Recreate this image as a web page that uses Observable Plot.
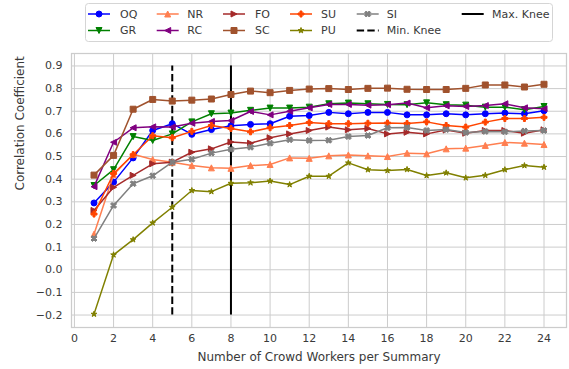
<!DOCTYPE html>
<html><head><meta charset="utf-8">
<script src="https://cdn.jsdelivr.net/npm/d3@7"></script>
<script src="https://cdn.jsdelivr.net/npm/@observablehq/plot@0.6"></script>
<style>
body{margin:0;background:#fff;font-family:"DejaVu Sans",sans-serif;}
#legend{width:569px;height:48px;}
#chart{width:569px;height:321px;}
</style></head><body>
<div id="legend"></div><div id="chart"></div>
<script>
// ---- data ----
const workers = [1,2,3,4,5,6,7,8,9,10,11,12,13,14,15,16,17,18,19,20,21,22,23,24];
const xTicks = [0,2,4,6,8,10,12,14,16,18,20,22,24];
const yTicks = [-0.2,-0.1,0,0.1,0.2,0.3,0.4,0.5,0.6,0.7,0.8,0.9];
const seriesNames = ["OQ","GR","NR","RC","FO","SC","SU","PU","SI"];
const seriesColors = ["#0000ff","#008000","#ff7f50","#800080","#a52a2a","#a0522d","#ff4500","#808000","#808080"];
const oq = [0.295,0.387,0.494,0.615,0.645,0.598,0.619,0.636,0.642,0.645,0.678,0.681,0.695,0.689,0.695,0.695,0.684,0.684,0.689,0.684,0.689,0.692,0.689,0.702];
const gr = [0.372,0.442,0.588,0.571,0.600,0.653,0.689,0.692,0.704,0.714,0.714,0.718,0.733,0.736,0.733,0.730,0.729,0.737,0.729,0.727,0.718,0.718,0.707,0.721];
const nr = [0.157,0.420,0.510,0.487,0.475,0.460,0.450,0.448,0.460,0.465,0.494,0.492,0.503,0.507,0.503,0.500,0.515,0.512,0.534,0.537,0.549,0.562,0.559,0.553];
const rc = [0.367,0.563,0.627,0.631,0.630,0.647,0.655,0.659,0.699,0.684,0.700,0.715,0.730,0.730,0.727,0.729,0.736,0.715,0.724,0.721,0.725,0.733,0.715,0.711];
const fo = [0.262,0.364,0.417,0.468,0.475,0.519,0.534,0.564,0.559,0.583,0.600,0.615,0.630,0.618,0.624,0.600,0.607,0.600,0.617,0.603,0.615,0.615,0.603,0.618];
const sc = [0.418,0.505,0.709,0.752,0.745,0.749,0.754,0.774,0.789,0.782,0.792,0.798,0.800,0.796,0.801,0.802,0.797,0.796,0.796,0.801,0.816,0.816,0.807,0.819];
const su = [0.246,0.425,0.508,0.592,0.583,0.611,0.637,0.624,0.609,0.627,0.637,0.650,0.645,0.645,0.647,0.648,0.646,0.653,0.637,0.630,0.652,0.668,0.668,0.673];
const pu = [-0.196,0.066,0.133,0.207,0.276,0.350,0.345,0.382,0.384,0.392,0.376,0.413,0.413,0.472,0.442,0.438,0.443,0.416,0.428,0.406,0.417,0.442,0.460,0.453];
const si = [0.138,0.284,0.380,0.415,0.475,0.488,0.515,0.532,0.541,0.559,0.574,0.571,0.572,0.588,0.593,0.627,0.628,0.615,0.619,0.606,0.611,0.609,0.613,0.615];
const seriesValues = [oq,gr,nr,rc,fo,sc,su,pu,si];
const kneeNames = ["Min. Knee","Max. Knee"];
const kneeX = [5, 8];
const kneeRange = [-0.2, 0.9];
const xLabel = "Number of Crowd Workers per Summary";
const yLabel = "Correlation Coefficient";
const textColor = "#3a3a3a";

// ---- marker shapes (matplotlib-like) ----
function polySym(pts){
  return {draw(ctx, size){
    const s = Math.sqrt(size/Math.PI)*2;
    ctx.moveTo(pts[0][0]*s, pts[0][1]*s);
    for (let i=1;i<pts.length;i++) ctx.lineTo(pts[i][0]*s, pts[i][1]*s);
    ctx.closePath();
  }};
}
const circleSym = {draw(ctx,size){const r=Math.sqrt(size/Math.PI); ctx.moveTo(r,0); ctx.arc(0,0,r,0,2*Math.PI); ctx.closePath();}};
const starPts = d3.range(10).map(i => { const a = -Math.PI/2 + i*Math.PI/5; const rr = i%2 ? 0.5*0.381966 : 0.5; return [rr*Math.cos(a), rr*Math.sin(a)]; });
const plusPts = [[-1,-3],[1,-3],[1,-1],[3,-1],[3,1],[1,1],[1,3],[-1,3],[-1,1],[-3,1],[-3,-1],[-1,-1]].map(([a,b])=>[a/6,b/6]);
const xPts = [[0.25,0],[0.5,0.25],[0.75,0],[1,0.25],[0.75,0.5],[1,0.75],[0.75,1],[0.5,0.75],[0.25,1],[0,0.75],[0.25,0.5],[0,0.25]].map(([a,b])=>[a-0.5,b-0.5]);
const symbols = [
  circleSym,
  polySym([[0,0.5],[-0.5,-0.5],[0.5,-0.5]]),   // v
  polySym([[0,-0.5],[-0.5,0.5],[0.5,0.5]]),    // ^
  polySym([[-0.5,0],[0.5,-0.5],[0.5,0.5]]),    // <
  polySym([[0.5,0],[-0.5,-0.5],[-0.5,0.5]]),   // >
  polySym([[-0.5,-0.5],[0.5,-0.5],[0.5,0.5],[-0.5,0.5]]), // s
  polySym(plusPts),  // P
  polySym(starPts),  // *
  polySym(xPts)      // X
];

// ---- plot ----
const rows = seriesNames.map((name,k) => workers.map((w,i) => ({series:name, x:w, y:seriesValues[k][i]})));
const kneeRows = kneeNames.map((n,i) => ({name:n, x:kneeX[i], y1:kneeRange[0], y2:kneeRange[1]}));

const marks = [
  Plot.ruleX(xTicks, {stroke:"#cccccc", strokeWidth:1}),
  Plot.ruleY(yTicks, {stroke:"#cccccc", strokeWidth:1}),
  Plot.frame({stroke:"#cccccc", strokeWidth:1.25}),
  Plot.ruleX([kneeRows[0]], {x:"x", y1:"y1", y2:"y2", stroke:"black", strokeWidth:2, strokeDasharray:"7.4,3.2"}),
  Plot.ruleX([kneeRows[1]], {x:"x", y1:"y1", y2:"y2", stroke:"black", strokeWidth:2})
];
rows.forEach((data,k) => {
  marks.push(Plot.line(data, {x:"x", y:"y", stroke:seriesColors[k], strokeWidth:1.5}));
  marks.push(Plot.dot(data, {x:"x", y:"y", symbol:symbols[k], r:3, fill:seriesColors[k], stroke:seriesColors[k], strokeWidth:1}));
});
marks.push(Plot.text([xLabel], {frameAnchor:"bottom", dy:30, fontSize:12, fill:textColor, lineAnchor:"middle"}));
marks.push(Plot.text([yLabel], {frameAnchor:"left", dx:-51, rotate:-90, fontSize:12, fill:textColor, lineAnchor:"middle"}));

const chart = Plot.plot({
  width:569, height:321,
  marginTop:5, marginLeft:71, marginRight:3, marginBottom:42,
  style:{fontFamily:"DejaVu Sans", fontSize:"11px", color:textColor, background:"white", overflow:"visible"},
  x:{domain:[-0.15,25.15], ticks:xTicks, tickSize:0, tickPadding:7, label:null, tickFormat:d=>String(d)},
  y:{domain:[-0.255,0.955], ticks:yTicks, tickSize:0, tickPadding:9, label:null, tickFormat:d=>d3.format(".1f")(d)},
  marks
});
document.getElementById("chart").appendChild(chart);

// ---- legend ----
const lg = d3.select("#legend").append("svg").attr("width",569).attr("height",48)
  .style("font-family","DejaVu Sans").style("font-size","11px");
lg.append("rect").attr("x",85.5).attr("y",3.5).attr("width",467).attr("height",38).attr("rx",3)
  .attr("fill","white").attr("stroke","#d5d5d5").attr("stroke-width",1);
const colX = [88,156.7,223,290,356.7,461.7];
const textX = [120,187.3,255,321,386.7,492];
const rowY = [14,30.5];
const items = [];
seriesNames.forEach((n,k)=>items.push({name:n, color:seriesColors[k], sym:symbols[k]}));
items.push({name:kneeNames[0], color:"black", dash:"7.4,3.2", knee:true});
items.push({name:kneeNames[1], color:"black", knee:true});
const placement = [[0,0],[0,1],[1,0],[1,1],[2,0],[2,1],[3,0],[3,1],[4,0],[4,1],[5,0]];
items.forEach((it,i)=>{
  const [c,r] = placement[i];
  const x0 = colX[c], y0 = rowY[r];
  const g = lg.append("g");
  const ln = g.append("line").attr("x1",x0).attr("x2",x0+22).attr("y1",y0).attr("y2",y0)
    .attr("stroke",it.color).attr("stroke-width", it.knee?2:1.5);
  if (it.dash) ln.attr("stroke-dasharray",it.dash);
  if (it.sym){
    const p = d3.path(); it.sym.draw(p, 9*Math.PI);
    g.append("path").attr("d",p.toString()).attr("transform",`translate(${x0+11},${y0})`)
      .attr("fill",it.color).attr("stroke",it.color).attr("stroke-width",1);
  }
  g.append("text").attr("x",textX[c]).attr("y",y0).attr("dy","0.35em").attr("fill",textColor).text(it.name);
});
</script>
</body></html>
